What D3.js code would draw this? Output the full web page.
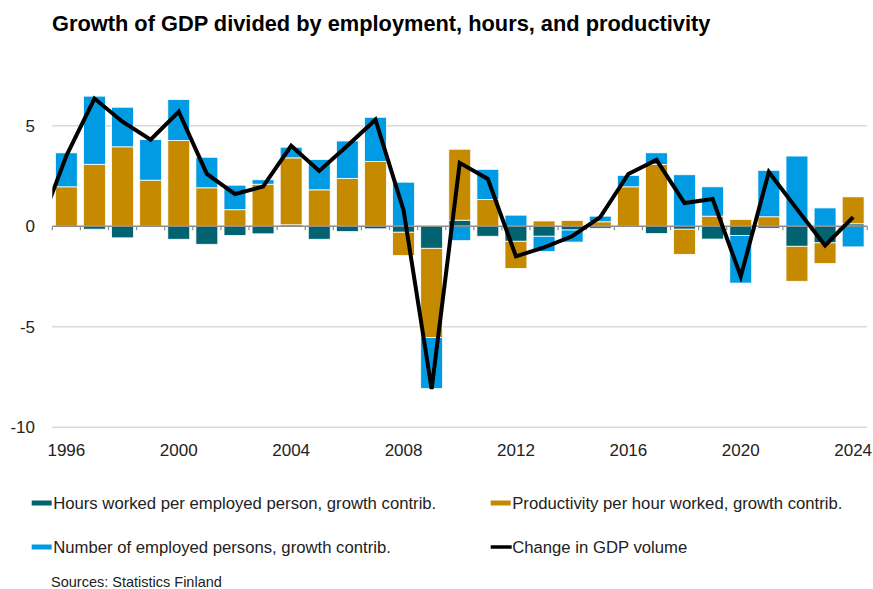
<!DOCTYPE html>
<html>
<head>
<meta charset="utf-8">
<script src="https://cdn.jsdelivr.net/npm/d3@7"></script>
<style>
  html, body { margin: 0; padding: 0; background: #fff; }
  svg { display: block; font-family: "Liberation Sans", Arial, sans-serif; }
</style>
</head>
<body>
<svg id="chart" width="873" height="589"></svg>
<script>
// Annual growth contributions, percentage points
const years = [1996, 1997, 1998, 1999, 2000, 2001, 2002, 2003, 2004, 2005,
               2006, 2007, 2008, 2009, 2010, 2011, 2012, 2013, 2014, 2015,
               2016, 2017, 2018, 2019, 2020, 2021, 2022, 2023, 2024];

const hoursPerPerson = [0.00, -0.15, -0.58, 0.00, -0.65, -0.90, -0.46, -0.38, 0.07, -0.65,
                        -0.27, -0.13, -0.30, -1.10, 0.30, -0.50, -0.75, -0.50, -0.19, -0.10,
                        0.00, -0.37, -0.15, -0.64, -0.46, -0.10, -1.00, -0.83, 0.12];

const productivity = [1.96, 3.08, 3.95, 2.29, 4.26, 1.91, 0.82, 2.09, 3.33, 1.81,
                      2.38, 3.22, -1.16, -4.44, 3.53, 1.33, -1.35, 0.26, 0.29, 0.22,
                      1.96, 3.07, -1.25, 0.50, 0.33, 0.47, -1.74, -1.03, 1.34];

const employedPersons = [1.69, 3.39, 1.97, 2.02, 2.04, 1.52, 1.22, 0.22, 0.53, 1.51,
                         1.86, 2.20, 2.19, -2.54, -0.72, 1.50, 0.55, -0.76, -0.60, 0.28,
                         0.57, 0.58, 2.56, 1.46, -2.37, 2.31, 3.49, 0.91, -1.03];

// GDP volume change, %; the series begins one year before the first bar
const gdpYears = [1995, 1996, 1997, 1998, 1999, 2000, 2001, 2002, 2003, 2004, 2005,
                  2006, 2007, 2008, 2009, 2010, 2011, 2012, 2013, 2014, 2015,
                  2016, 2017, 2018, 2019, 2020, 2021, 2022, 2023, 2024];
const gdpChange = [-0.2, 3.5, 6.35, 5.2, 4.3, 5.7, 2.6, 1.6, 1.97, 4.0, 2.75,
                   4.0, 5.3, 0.8, -8.1, 3.15, 2.35, -1.5, -1.05, -0.5, 0.45,
                   2.6, 3.3, 1.15, 1.35, -2.5, 2.7, 0.85, -0.96, 0.45];

const xTickLabels = [1996, 2000, 2004, 2008, 2012, 2016, 2020, 2024];
const yTicks = [-10, -5, 0, 5];

const seriesKeys = ["hours", "productivity", "employed"];
const seriesNames = {
  hours: "Hours worked per employed person, growth contrib.",
  productivity: "Productivity per hour worked, growth contrib.",
  employed: "Number of employed persons, growth contrib.",
  gdp: "Change in GDP volume"
};
const colors = { hours: "#00636f", productivity: "#c68a00", employed: "#009be3" };

const svg = d3.select("#chart");
const left = 52.3, right = 867.2;

const x = d3.scaleBand().domain(years).range([left, right]).paddingInner(0.22).paddingOuter(0.11);
const y = d3.scaleLinear().domain([-10, 5]).range([427.2, 125.7]);
const step = x.step();
const cx = yr => yr < years[0]
  ? x(years[0]) + x.bandwidth() / 2 - (years[0] - yr) * step
  : x(yr) + x.bandwidth() / 2;

// Title
svg.append("text")
  .attr("x", 52).attr("y", 31)
  .attr("font-size", 21.8).attr("font-weight", "bold").attr("fill", "#000")
  .text("Growth of GDP divided by employment, hours, and productivity");

// Horizontal gridlines
svg.append("g").selectAll("line")
  .data(yTicks.filter(v => v !== 0))
  .join("line")
  .attr("x1", left).attr("x2", right)
  .attr("y1", d => y(d)).attr("y2", d => y(d))
  .attr("stroke", "#d9d9d9").attr("stroke-width", 1.5);

// Y axis labels
svg.append("g").selectAll("text")
  .data(yTicks)
  .join("text")
  .attr("x", 35).attr("y", d => y(d))
  .attr("dy", "0.36em")
  .attr("text-anchor", "end")
  .attr("font-size", 17).attr("fill", "#222")
  .text(d => d);

// Stacked bars (positive and negative parts stack away from zero)
const rows = years.map((yr, i) => ({
  year: yr,
  hours: hoursPerPerson[i],
  productivity: productivity[i],
  employed: employedPersons[i]
}));
const stacked = d3.stack().keys(seriesKeys).offset(d3.stackOffsetDiverging)(rows);

svg.append("g").selectAll("g")
  .data(stacked)
  .join("g")
  .attr("fill", d => colors[d.key])
  .selectAll("rect")
  .data(d => d)
  .join("rect")
  .attr("x", d => x(d.data.year))
  .attr("width", x.bandwidth())
  .attr("y", d => y(Math.max(d[0], d[1])))
  .attr("height", d => Math.abs(y(d[0]) - y(d[1])))
  .attr("stroke", "#fff").attr("stroke-width", 0.8);

// Zero axis with category ticks
const axisG = svg.append("g");
axisG.append("line")
  .attr("x1", left).attr("x2", right)
  .attr("y1", y(0)).attr("y2", y(0))
  .attr("stroke", "#8c8c8c").attr("stroke-width", 1.5);
const boundaries = years.map(yr => x(yr) - x.paddingInner() * step / 2).concat([right]);
axisG.selectAll("line.tick")
  .data(boundaries)
  .join("line").attr("class", "tick")
  .attr("x1", d => d).attr("x2", d => d)
  .attr("y1", y(0)).attr("y2", y(0) + 4)
  .attr("stroke", "#8c8c8c").attr("stroke-width", 1.2);

// X labels
svg.append("g").selectAll("text")
  .data(xTickLabels)
  .join("text")
  .attr("x", d => cx(d)).attr("y", 456)
  .attr("text-anchor", "middle")
  .attr("font-size", 17).attr("fill", "#222")
  .text(d => d);

// GDP line, clipped to the plot area
svg.append("clipPath").attr("id", "plotClip")
  .append("rect").attr("x", left).attr("y", 60).attr("width", right - left + 10).attr("height", 400);

const line = d3.line().x(d => cx(d[0])).y(d => y(d[1]));
svg.append("path")
  .datum(gdpYears.map((yr, i) => [yr, gdpChange[i]]))
  .attr("clip-path", "url(#plotClip)")
  .attr("d", line)
  .attr("fill", "none").attr("stroke", "#000").attr("stroke-width", 4)
  .attr("stroke-linejoin", "miter");

// Legend
const legendItems = [
  { key: "hours", x: 31.7, y: 503, type: "rect" },
  { key: "productivity", x: 490.7, y: 503, type: "rect" },
  { key: "employed", x: 31.7, y: 547, type: "rect" },
  { key: "gdp", x: 490.7, y: 547, type: "line" }
];
const lg = svg.append("g").selectAll("g").data(legendItems).join("g");
lg.filter(d => d.type === "rect").append("rect")
  .attr("x", d => d.x).attr("y", d => d.y - 2.5)
  .attr("width", 20).attr("height", 5)
  .attr("fill", d => colors[d.key]);
lg.filter(d => d.type === "line").append("line")
  .attr("x1", d => d.x).attr("x2", d => d.x + 21)
  .attr("y1", d => d.y).attr("y2", d => d.y)
  .attr("stroke", "#000").attr("stroke-width", 3.5);
lg.append("text")
  .attr("x", d => d.x + 21.5).attr("y", d => d.y)
  .attr("dy", "0.36em")
  .attr("font-size", 16.7).attr("fill", "#222")
  .text(d => seriesNames[d.key]);

// Source note
svg.append("text")
  .attr("x", 51).attr("y", 587)
  .attr("font-size", 14.5).attr("fill", "#222")
  .text("Sources: Statistics Finland");
</script>
</body>
</html>
